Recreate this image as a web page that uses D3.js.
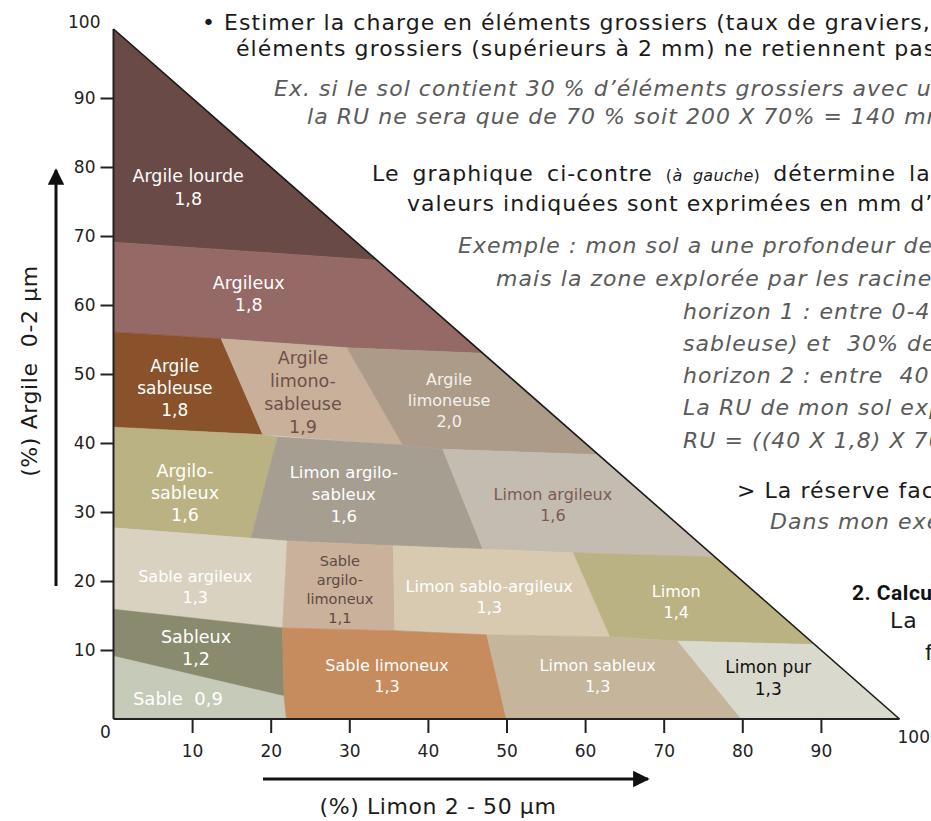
<!DOCTYPE html>
<html>
<head>
<meta charset="utf-8">
<script src="https://d3js.org/d3.v7.min.js"></script>
<style>
  body { margin: 0; background: #fff; }
  svg { display: block; font-family: "DejaVu Sans", sans-serif; }
  svg text { white-space: pre; }
  .zone-label { text-anchor: middle; }
  .axis path, .axis line { stroke: #222; stroke-width: 2; }
  .axis text { font-size: 17px; fill: #222; font-family: "DejaVu Sans", sans-serif; }
  .body-text { font-size: 22px; fill: #1a1a1a; letter-spacing: 1.05px; }
  .ex-text { font-size: 22px; fill: #5a5a5a; font-style: italic; letter-spacing: 1.05px; }
</style>
</head>
<body>
<script>
// texture classes (silt %, clay %)
var zoneNames = ["Argile lourde", "Argileux", "Argile sableuse", "Argile limono-sableuse",
  "Argile limoneuse", "Argilo-sableux", "Limon argilo-sableux", "Limon argileux",
  "Sable argileux", "Sable argilo-limoneux", "Limon sablo-argileux", "Limon",
  "Sableux", "Sable", "Sable limoneux", "Limon sableux", "Limon pur"];

var zoneRU = ["1,8", "1,8", "1,8", "1,9", "2,0", "1,6", "1,6", "1,6",
  "1,3", "1,1", "1,3", "1,4", "1,2", "0,9", "1,3", "1,3", "1,3"];

var zoneBounds = [
  [[0,100],[0,69.1],[33.5,66.5]],
  [[0,69.1],[33.5,66.5],[47,53],[29.7,53.8],[13.7,55.1],[0,56.1]],
  [[0,56.1],[13.7,55.1],[19.0,41.2],[0,42.3]],
  [[13.7,55.1],[29.7,53.8],[36.8,39.7],[19.0,41.2]],
  [[29.7,53.8],[47,53],[61.7,38.3],[41.9,39.1],[36.8,39.7]],
  [[0,42.3],[19.0,41.2],[20.9,40.9],[17.5,26.2],[0,27.7]],
  [[20.9,40.9],[36.8,39.7],[41.9,39.1],[47.0,24.6],[35.6,25.1],[22.1,25.8],[17.5,26.2]],
  [[41.9,39.1],[61.7,38.3],[76.5,23.5],[58.5,24.1],[47.0,24.6]],
  [[0,27.7],[17.5,26.2],[22.1,25.8],[21.5,13.2],[0,15.9]],
  [[22.1,25.8],[35.6,25.1],[35.8,12.8],[21.5,13.2]],
  [[35.6,25.1],[47.0,24.6],[58.5,24.1],[63.2,11.9],[47.5,12.2],[35.8,12.8]],
  [[58.5,24.1],[76.5,23.5],[89.2,10.8],[71.8,11.3],[63.2,11.9]],
  [[0,15.9],[21.5,13.2],[21.7,3.3],[0,9.1]],
  [[0,9.1],[21.7,3.3],[22,0],[0,0]],
  [[21.5,13.2],[35.8,12.8],[47.5,12.2],[50,0],[22,0],[21.7,3.3]],
  [[47.5,12.2],[63.2,11.9],[71.8,11.3],[79.9,0],[50,0]],
  [[71.8,11.3],[89.2,10.8],[100,0],[79.9,0]]
];

var xTicks = [10, 20, 30, 40, 50, 60, 70, 80, 90];
var yTicks = [10, 20, 30, 40, 50, 60, 70, 80, 90];

// layout / style
var zoneColors = ["#6a4a46", "#956966", "#8a522b", "#c9b09b", "#ad9b89", "#bab283",
  "#a69e91", "#c4bcb0", "#d9d2c0", "#c9b19b", "#d8cab0", "#bab283",
  "#8a8b6e", "#c6cab8", "#c78c5e", "#c4b59b", "#d9d9cd"];
var labelLines = [
  ["Argile lourde", "1,8"], ["Argileux", "1,8"], ["Argile", "sableuse", "1,8"],
  ["Argile", "limono-", "sableuse", "1,9"], ["Argile", "limoneuse", "2,0"],
  ["Argilo-", "sableux", "1,6"], ["Limon argilo-", "sableux", "1,6"], ["Limon argileux", "1,6"],
  ["Sable argileux", "1,3"], ["Sable", "argilo-", "limoneux", "1,1"], ["Limon sablo-argileux", "1,3"],
  ["Limon", "1,4"], ["Sableux", "1,2"], ["Sable  0,9"], ["Sable limoneux", "1,3"],
  ["Limon sableux", "1,3"], ["Limon pur", "1,3"]];
var labelAt = [[9.5,77.1],[17.2,61.7],[7.8,48.0],[24.1,47.4],[42.7,46.2],[9.1,32.8],
  [29.3,32.6],[55.9,31.0],[10.4,19.1],[28.8,18.8],[47.8,17.7],[71.6,17.0],
  [10.5,10.4],[8.2,3.0],[34.8,6.2],[61.6,6.2],[83.3,6.0]];
var labelSize = [17.5,17.5,17,17.5,16,17.5,16.5,16,16,14.5,16,16,17.5,18,16,16,17];
var labelGap = [23,22,22,23,21,22,22,21,21,19,21,21,22,22,21,21,22];
var labelColor = ["#fff","#fff","#fff","#6e5049","#f6f0ea","#fff","#fff","#7a5b56",
  "#fff","#5f4a42","#fff","#fff","#fff","#fff","#fff","#fff","#111"];

var width = 931, height = 821;
var svg = d3.select("body").append("svg").attr("width", width).attr("height", height);

var x = d3.scaleLinear().domain([0, 100]).range([113.5, 899.5]);
var y = d3.scaleLinear().domain([0, 100]).range([719, 29]);

var line = d3.line().x(function(d) { return x(d[0]); }).y(function(d) { return y(d[1]); });

svg.append("g").selectAll("path")
  .data(zoneBounds)
  .enter().append("path")
  .attr("d", function(d) { return line(d) + "Z"; })
  .attr("fill", function(d, i) { return zoneColors[i]; })
  .attr("stroke", function(d, i) { return zoneColors[i]; })
  .attr("stroke-width", 0.6);

// hypotenuse
svg.append("path")
  .attr("d", line([[0, 100], [100, 0]]))
  .attr("stroke", "#1a1a1a").attr("stroke-width", 1.6).attr("fill", "none");

// labels
var labels = svg.append("g").selectAll("text")
  .data(zoneNames)
  .enter().append("text")
  .attr("class", "zone-label")
  .attr("font-size", function(d, i) { return labelSize[i]; })
  .attr("fill", function(d, i) { return labelColor[i]; });

labels.each(function(d, i) {
  var lines = labelLines[i], n = lines.length, gap = labelGap[i];
  var cx = x(labelAt[i][0]), cy = y(labelAt[i][1]);
  d3.select(this).selectAll("tspan")
    .data(lines).enter().append("tspan")
    .attr("x", cx)
    .attr("y", function(t, j) { return cy + (j - (n - 1) / 2) * gap + labelSize[i] * 0.36; })
    .text(function(t) { return t; });
});

// axes
var yAxis = svg.append("g").attr("class", "axis")
  .attr("transform", "translate(" + x(0) + ",0)")
  .call(d3.axisLeft(y).tickValues(yTicks).tickSize(13).tickPadding(5));
yAxis.select(".domain").attr("d", "M0," + y(100) + "V" + y(0));

var xAxis = svg.append("g").attr("class", "axis")
  .attr("transform", "translate(0," + y(0) + ")")
  .call(d3.axisBottom(x).tickValues(xTicks).tickSize(14).tickPadding(12));
xAxis.select(".domain").attr("d", "M" + x(0) + ",0H" + x(100));

svg.append("text").attr("x", x(0) - 8).attr("y", y(0) + 19)
  .attr("text-anchor", "middle").attr("font-size", 17).attr("fill", "#222").text("0");
svg.append("text").attr("x", x(0) - 13).attr("y", y(100) - 1)
  .attr("text-anchor", "end").attr("font-size", 17).attr("fill", "#222").text("100");
svg.append("text").attr("x", x(100) - 2).attr("y", y(0) + 24)
  .attr("text-anchor", "start").attr("font-size", 17).attr("fill", "#222").text("100");

// axis arrows + titles
var defs = svg.append("defs");
defs.append("marker").attr("id", "arrow").attr("viewBox", "0 0 10 10")
  .attr("refX", 9).attr("refY", 5).attr("markerWidth", 5.5).attr("markerHeight", 5.5)
  .attr("markerUnits", "strokeWidth").attr("orient", "auto")
  .append("path").attr("d", "M0,0L10,5L0,10Z").attr("fill", "#111");

svg.append("line").attr("x1", 56).attr("y1", 586).attr("x2", 56).attr("y2", 170)
  .attr("stroke", "#111").attr("stroke-width", 3).attr("marker-end", "url(#arrow)");
svg.append("line").attr("x1", 263).attr("y1", 779).attr("x2", 648).attr("y2", 779)
  .attr("stroke", "#111").attr("stroke-width", 3).attr("marker-end", "url(#arrow)");

svg.append("text").attr("transform", "translate(37,371) rotate(-90)")
  .attr("text-anchor", "middle").attr("font-size", 22).attr("fill", "#1a1a1a")
  .attr("letter-spacing", 0.6)
  .text("(%) Argile  0-2 µm");
svg.append("text").attr("x", 438).attr("y", 814)
  .attr("text-anchor", "middle").attr("font-size", 22).attr("fill", "#1a1a1a")
  .attr("letter-spacing", 0.6)
  .text("(%) Limon 2 - 50 µm");

// side text (cut by the right edge)
var sideText = [
  {x: 160, y: -5, c: "body-text", t: "Calculer la réserve en fonction du type de sol (léger ou lourd))."},
  {x: 202, y: 30, c: "body-text", t: "• Estimer la charge en éléments grossiers (taux de graviers, cailloux)."},
  {x: 236, y: 56, c: "body-text", t: "éléments grossiers (supérieurs à 2 mm) ne retiennent pas l’eau."},
  {x: 274, y: 96, c: "ex-text", t: "Ex. si le sol contient 30 % d’éléments grossiers avec une RU de 200 mm,"},
  {x: 307, y: 124, c: "ex-text", t: "la RU ne sera que de 70 % soit 200 X 70% = 140 mm."},
  {x: 407, y: 211, c: "body-text", t: "valeurs indiquées sont exprimées en mm d’eau par cm de sol."},
  {x: 458, y: 253, c: "ex-text", t: "Exemple : mon sol a une profondeur de 100 cm"},
  {x: 496, y: 286, c: "ex-text", t: "mais la zone explorée par les racines est de 80 cm."},
  {x: 683, y: 319, c: "ex-text", t: "horizon 1 : entre 0-40 cm"},
  {x: 683, y: 351, c: "ex-text", t: "sableuse) et  30% de cailloux"},
  {x: 683, y: 383, c: "ex-text", t: "horizon 2 : entre  40 et 80 cm"},
  {x: 683, y: 415, c: "ex-text", t: "La RU de mon sol explorée"},
  {x: 683, y: 448, c: "ex-text", t: "RU = ((40 X 1,8) X 70%)"},
  {x: 737, y: 498, c: "body-text", t: "> La réserve facilement utilisable"},
  {x: 770, y: 529, c: "ex-text", t: "Dans mon exemple"},
  {x: 890, y: 628, c: "body-text", t: "La  capacité"},
  {x: 925, y: 660, c: "body-text", t: "f"}
];
svg.append("g").selectAll("text")
  .data(sideText).enter().append("text")
  .attr("class", function(d) { return d.c; })
  .attr("x", function(d) { return d.x; })
  .attr("y", function(d) { return d.y; })
  .text(function(d) { return d.t; });

var lg = svg.append("text").attr("class", "body-text").attr("x", 372).attr("y", 181)
  .attr("word-spacing", 5);
lg.append("tspan").text("Le graphique ci-contre ");
lg.append("tspan").attr("font-size", 16).attr("letter-spacing", 0.3).text("(");
lg.append("tspan").attr("font-size", 16).attr("letter-spacing", 0.3).attr("font-style", "italic").text("à gauche");
lg.append("tspan").attr("font-size", 16).attr("letter-spacing", 0.3).text(")");
lg.append("tspan").text(" détermine la RU");

svg.append("text").attr("x", 852).attr("y", 600)
  .attr("font-family", "Roboto").attr("font-weight", "bold").attr("font-size", 21)
  .attr("letter-spacing", 0.5)
  .attr("fill", "#111").text("2. Calcul");
</script>
</body>
</html>
